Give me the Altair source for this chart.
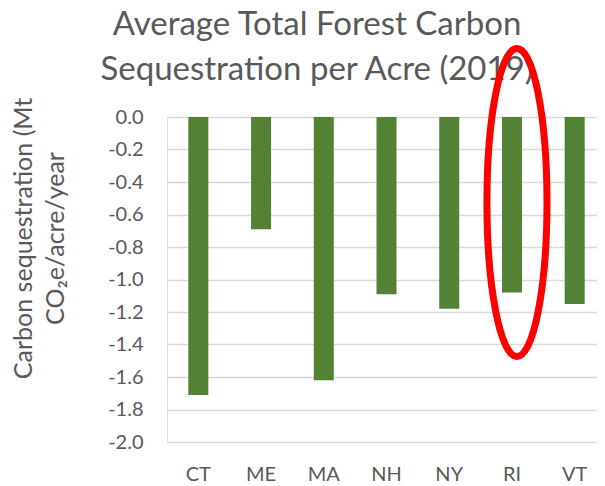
import altair as alt
import pandas as pd

states = ["CT", "ME", "MA", "NH", "NY", "RI", "VT"]
values = [-1.71, -0.69, -1.62, -1.09, -1.18, -1.08, -1.15]
y_ticks = [0.0, -0.2, -0.4, -0.6, -0.8, -1.0, -1.2, -1.4, -1.6, -1.8, -2.0]
title_text = "Average Total Forest Carbon\nSequestration per Acre (2019)"
y_title = ["Carbon sequestration (Mt", "CO\u2082e/acre/year"]
highlight_state = "RI"
highlight_center = -0.526

df = pd.DataFrame({"state": states, "value": values})
hl = pd.DataFrame({"state": [highlight_state], "value": [highlight_center]})

FONT = "Lato"
GREY = "#595959"

y_scale = alt.Scale(domain=[-2, 0], nice=False, zero=False)
x_scale = alt.Scale(paddingInner=0.681, paddingOuter=0.268, align=0.634)

x_enc = alt.X(
    "state:N",
    sort=states,
    scale=x_scale,
    axis=alt.Axis(
        title=None, labelAngle=0, domain=False, ticks=False,
        labelFont=FONT, labelFontSize=20, labelColor=GREY, labelPadding=22,
        grid=False,
    ),
)

y_axis = alt.Axis(
    values=y_ticks,
    tickCount=30,
    labelOverlap=False,
    labelExpr="replace(format(datum.value, '.1f'), '\u2212', '-')",
    domain=False, ticks=False,
    grid=True, gridColor="#d9d9d9", gridWidth=1.3,
    labelFont=FONT, labelFontSize=20, labelColor=GREY, labelPadding=24,
    title=y_title,
    titleFont=FONT, titleFontSize=25, titleColor=GREY, titleFontWeight="normal",
    titleAngle=-90, titleX=-144, titleY=121, titleAlign="center",
    titleBaseline="middle", titleLineHeight=32,
)

bars = alt.Chart(df).mark_bar(color="#548235").encode(
    x=x_enc,
    y=alt.Y("value:Q", scale=y_scale, axis=y_axis),
    y2=alt.datum(0),
)

ellipse = alt.Chart(hl).mark_point(
    shape="M -0.195 0 A 0.195 1 0 1 0 0.195 0 A 0.195 1 0 1 0 -0.195 0 Z",
    size=94864,
    filled=False,
    stroke="#ff0000",
    strokeWidth=7,
    opacity=1,
    xOffset=5,
    clip=False,
).encode(
    x=alt.X("state:N", sort=states, scale=x_scale),
    y=alt.Y("value:Q", scale=y_scale, axis=y_axis),
)

title = alt.Chart(pd.DataFrame({"t": [title_text]})).mark_text(
    font=FONT, fontSize=33, color=GREY, align="center", baseline="alphabetic",
    lineBreak="\n", lineHeight=45, clip=False,
).encode(
    text="t:N",
    x=alt.value(150),
    y=alt.value(-82),
)

chart = alt.layer(bars, title, ellipse).properties(
    width=430,
    height=325,
    autosize=alt.AutoSizeParams(type="none"),
    padding={"left": 159, "top": 109, "right": 0, "bottom": 46},
).configure_view(stroke=None).configure(background="white")

chart.save("out.html", embed_options={"renderer": "svg", "actions": False})
